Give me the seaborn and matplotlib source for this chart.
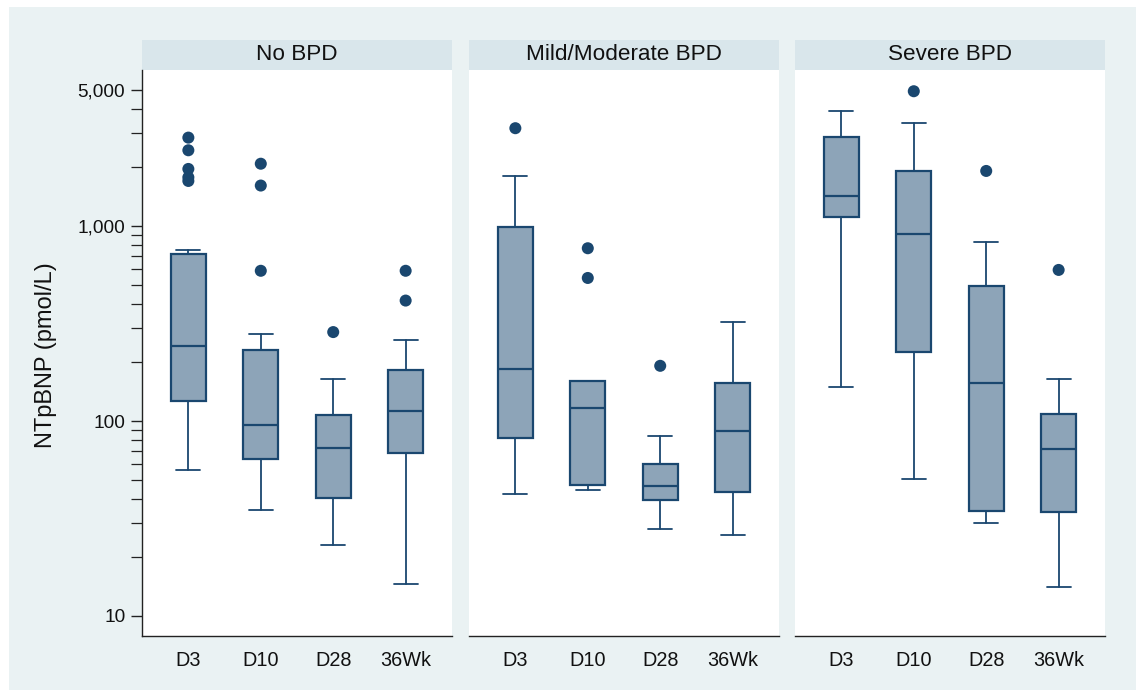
import matplotlib
matplotlib.use("Agg")
import matplotlib.pyplot as plt
from matplotlib.patches import Rectangle
from matplotlib.ticker import FixedLocator, NullFormatter
import seaborn as sns
import pandas as pd
import numpy as np

# panels and time points
groups = ["No BPD", "Mild/Moderate BPD", "Severe BPD"]
times = ["D3", "D10", "D28", "36Wk"]

# box statistics (pmol/L)
whis_lo = {"No BPD": [56, 35, 23, 14.5],
           "Mild/Moderate BPD": [42.3, 44.5, 27.9, 26.1],
           "Severe BPD": [150, 50.5, 30.1, 14.0]}
q1 = {"No BPD": [127, 64, 40.5, 68.5],
      "Mild/Moderate BPD": [81.6, 47.2, 39.5, 43.3],
      "Severe BPD": [1111, 226, 34.6, 34.3]}
med = {"No BPD": [244, 95, 73, 112],
       "Mild/Moderate BPD": [184, 116, 46.3, 88.6],
       "Severe BPD": [1435, 908, 156, 72.2]}
q3 = {"No BPD": [717, 232, 107.5, 182],
      "Mild/Moderate BPD": [994, 160.6, 60.3, 157.4],
      "Severe BPD": [2879, 1927, 495, 109.2]}
whis_hi = {"No BPD": [755, 281, 164, 261],
           "Mild/Moderate BPD": [1803, 160.6, 83.6, 323.6],
           "Severe BPD": [3884, 3373, 833, 164.4]}
outliers = {"No BPD": [[2845, 2450, 1965, 1780, 1705], [2090, 1615, 590], [286], [590, 415]],
            "Mild/Moderate BPD": [[3180], [770, 542], [192], []],
            "Severe BPD": [[], [4921], [1919], [596]]}

y_ticks = [10, 100, 1000, 5000]
y_ticklabels = ["10", "100", "1,000", "5,000"]
y_minor = [20, 30, 40, 50, 60, 70, 80, 90, 200, 300, 400, 500, 600, 700, 800, 900,
           2000, 3000, 4000]

navy = "#1a476f"
fill = "#8da4b8"
bg = "#eaf2f3"
strip = "#d9e6eb"

sns.set_theme(style="ticks")
plt.rcParams["font.family"] = ["Liberation Sans", "DejaVu Sans"]

W, H = 1140, 695
fig = plt.figure(figsize=(W / 100, H / 100), dpi=100)
fig.patch.set_facecolor("white")
fig.patches.append(Rectangle((9 / W, 1 - 690 / H), 1127 / W, 683 / H,
                             transform=fig.transFigure, facecolor=bg,
                             edgecolor="none", zorder=-10))

lefts = [142, 469, 795]
pw = 310
top, bottom = 70, 636
positions = np.arange(1, 5)

axes = []
for i, g in enumerate(groups):
    ax = fig.add_axes([lefts[i] / W, 1 - bottom / H, pw / W, (bottom - top) / H])
    ax.set_facecolor("white")
    ax.set_yscale("log")

    stats = []
    for j, t in enumerate(times):
        stats.append(dict(whislo=whis_lo[g][j], q1=q1[g][j], med=med[g][j],
                          q3=q3[g][j], whishi=whis_hi[g][j], fliers=[], label=t))
    ax.bxp(stats, positions=positions, widths=0.48, capwidths=0.33,
           patch_artist=True, showfliers=False, manage_ticks=False,
           boxprops=dict(facecolor=fill, edgecolor=navy, linewidth=1.6),
           medianprops=dict(color=navy, linewidth=1.6),
           whiskerprops=dict(color=navy, linewidth=1.3),
           capprops=dict(color=navy, linewidth=1.3))

    pts = pd.DataFrame([(positions[j], v) for j in range(4) for v in outliers[g][j]],
                       columns=["pos", "value"])
    if len(pts):
        sns.scatterplot(data=pts, x="pos", y="value", ax=ax, s=75, color=navy,
                        edgecolor="none", zorder=5)

    ax.set_xlim(0.36, 4.64)
    ax.set_ylim(7.89, 6324)
    ax.set_xticks(positions)
    ax.set_xticklabels(times, fontsize=14.3, color="#111111")
    ax.tick_params(axis="x", length=0, pad=11)
    ax.set_xlabel("")
    ax.set_ylabel("")

    for s in ["top", "right"]:
        ax.spines[s].set_visible(False)
    ax.spines["bottom"].set_color("#222222")
    ax.spines["bottom"].set_linewidth(1.0)

    if i == 0:
        ax.yaxis.set_major_locator(FixedLocator(y_ticks))
        ax.set_yticklabels(y_ticklabels, fontsize=13.7, color="#111111")
        ax.yaxis.set_minor_locator(FixedLocator(y_minor))
        ax.yaxis.set_minor_formatter(NullFormatter())
        ax.tick_params(axis="y", which="major", length=8, width=1.0, color="#222222", pad=4)
        ax.tick_params(axis="y", which="minor", length=8, width=0.9, color="#222222")
        ax.spines["left"].set_color("#222222")
        ax.spines["left"].set_linewidth(1.0)
    else:
        ax.spines["left"].set_visible(False)
        ax.tick_params(axis="y", which="both", left=False, labelleft=False)

    # title strip
    sh = 30 / (bottom - top)
    ax.add_patch(Rectangle((0, 1), 1, sh, transform=ax.transAxes, facecolor=strip,
                           edgecolor="none", clip_on=False))
    ax.text(0.5, 1 + sh / 2, g, transform=ax.transAxes, ha="center", va="center",
            fontsize=16.2, color="#111111")
    axes.append(ax)

fig.text(46 / W, 1 - 355 / H, "NTpBNP (pmol/L)", rotation=90, ha="center",
         va="center", fontsize=17, color="#111111")

fig.savefig("out.png", dpi=100, facecolor=fig.get_facecolor())
